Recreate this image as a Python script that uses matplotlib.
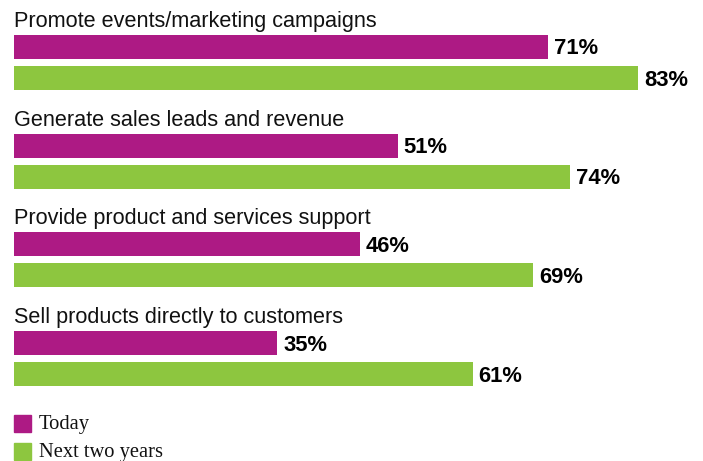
import matplotlib.pyplot as plt
from matplotlib.patches import Rectangle

categories = [
    "Promote events/marketing campaigns",
    "Generate sales leads and revenue",
    "Provide product and services support",
    "Sell products directly to customers",
]
today = [71, 51, 46, 35]
next_two = [83, 74, 69, 61]
series_names = ["Today", "Next two years"]

PURPLE = "#AD1A84"
GREEN = "#8DC63F"

W, H = 703, 461
fig = plt.figure(figsize=(W / 100, H / 100), dpi=100)
ax = fig.add_axes([0, 0, 1, 1])
# 1 percent = 7.52 px, zero at x=14 px
scale = 7.52
ax.set_xlim(-14 / scale, (W - 14) / scale)
ax.set_ylim(H, 0)
ax.axis("off")

pitch = 98.7
bar_h = 24
for i, cat in enumerate(categories):
    y0 = 47 + pitch * i
    y1 = y0 + 31
    ax.text(0, y0 - 20, cat, fontsize=15.6, family="Liberation Sans",
            va="baseline", ha="left", color="#111111")
    ax.barh(y0, today[i], height=bar_h, color=PURPLE, left=0)
    ax.barh(y1, next_two[i], height=bar_h, color=GREEN, left=0)
    ax.text(today[i] + 0.8, y0 + 2, f"{today[i]}%", fontsize=15.8,
            fontweight="bold", family="Liberation Sans", va="center", ha="left")
    ax.text(next_two[i] + 0.8, y1 + 2, f"{next_two[i]}%", fontsize=15.8,
            fontweight="bold", family="Liberation Sans", va="center", ha="left")

# legend
for j, (name, col) in enumerate(zip(series_names, [PURPLE, GREEN])):
    top = 415 + 28 * j
    fig.patches.append(Rectangle((14 / W, 1 - (top + 17) / H), 17 / W, 17 / H,
                                 transform=fig.transFigure, color=col))
    fig.text(39 / W, 1 - (top + 14) / H, name, fontsize=14.8,
             family="Liberation Serif", va="baseline", ha="left", color="#111111")

fig.savefig("out.png", dpi=100)
